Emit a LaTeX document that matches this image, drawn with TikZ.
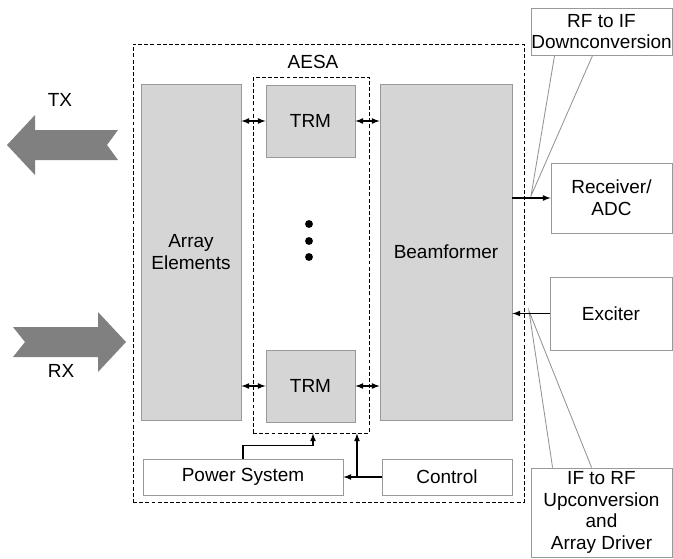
\documentclass[tikz,border=0pt]{standalone}
\usepackage{fontspec}
\setmainfont{Liberation Sans}
\usetikzlibrary{positioning}
\begin{document}
\begin{tikzpicture}[x = 0.025cm, y = -0.025cm,
    every node/.style = {font = \fontsize{13.5}{15.5}\selectfont, align = center, inner sep = 0pt},
    gbox/.style = {draw = gray!80, fill = gray!33, line width = 0.6pt},
    wbox/.style = {draw = gray!80, fill = white, line width = 0.6pt},
    dbox/.style = {draw, dash pattern = on 2.8pt off 1.6pt, line width = 0.6pt},
    link/.style = {-latex, line width = 0.9pt},
    both/.style = {latex-latex, line width = 0.9pt},
    lead/.style = {draw = gray!85, line width = 0.6pt},
    bigarrow/.style = {fill = black!50}]

    \useasboundingbox (0, 0) rectangle (673, 559);

    % dashed frames
    \node (sys) at (328.5, 273) [dbox, minimum width = 9.775cm, minimum height = 11.45cm] {};
    \node (aesa) at (311, 255) [dbox, minimum width = 2.9cm, minimum height = 8.9cm] {};
    \node (aesalbl) at (313, 62) {AESA};

    % blocks
    \node (arr) at (191, 252) [gbox, minimum width = 2.5cm, minimum height = 8.4cm] {Array\\Elements};
    \node (trm1) at (310.5, 121) [gbox, minimum width = 2.225cm, minimum height = 1.8cm] {TRM};
    \node (trm2) at (310.5, 386) [gbox, minimum width = 2.225cm, minimum height = 1.8cm] {TRM};
    \node (bf) at (446, 252) [gbox, minimum width = 3.3cm, minimum height = 8.4cm] {Beamformer};

    \node (d1) at (309, 224) [circle, fill, minimum size = 5.6pt] {};
    \node (d2) at (309, 241) [circle, fill, minimum size = 5.6pt] {};
    \node (d3) at (309, 257) [circle, fill, minimum size = 5.6pt] {};

    \node (pwr) at (243, 477) [wbox, minimum width = 5cm, minimum height = 0.9cm] {Power System};
    \node (ctl) at (447, 477) [wbox, minimum width = 3.25cm, minimum height = 0.9cm] {Control};

    \node (rcv) at (611.5, 198) [wbox, minimum width = 3.025cm, minimum height = 1.75cm] {Receiver/\\ADC};
    \node (exc) at (611, 313.5) [wbox, minimum width = 3.05cm, minimum height = 1.825cm] {Exciter};

    % callouts
    \coordinate (dtip) at (531, 196);
    \coordinate (utip) at (529, 311);
    \node (dcv) at (601.5, 31.5) [wbox, minimum width = 3.525cm, minimum height = 1.175cm] {RF to IF\\Downconversion};
    \node (ucv) at (601.5, 512.5) [wbox, minimum width = 3.525cm, minimum height = 2.225cm] {IF to RF\\Upconversion\\and\\Array Driver};
    \draw[lead] ([xshift = 0.6cm]dcv.south west) -- (dtip) -- ([xshift = 1.55cm]dcv.south west);
    \draw[lead] ([xshift = 0.55cm]ucv.north west) -- (utip) -- ([xshift = 1.525cm]ucv.north west);

    % connections
    \draw[both] (arr.east |- trm1) -- (trm1.west);
    \draw[both] (trm1.east) -- (bf.west |- trm1);
    \draw[both] (arr.east |- trm2) -- (trm2.west);
    \draw[both] (trm2.east) -- (bf.west |- trm2);

    \draw[link] (bf.east |- rcv) -- (rcv.west);
    \draw[link] (exc.west) -- (bf.east |- exc);

    \draw[link] (pwr.north) -- ++(0, -13) -| ([xshift = 0.05cm]aesa.south);
    \coordinate (cj) at (357, 477);
    \draw[link] (ctl.west) -- (pwr.east);
    \draw[link] (cj) -- (cj |- aesa.south);

    % TX and RX
    \fill[bigarrow] (7, 145) -- (35, 115) -- (35, 130) -- (118, 130) -- (107, 145)
        -- (118, 160) -- (35, 160) -- (35, 175) -- cycle;
    \fill[bigarrow] (13, 327) -- (98, 327) -- (98, 312) -- (126, 342) -- (98, 372)
        -- (98, 357) -- (13, 357) -- (25, 342) -- cycle;
    \node (tx) at (60, 100) {TX};
    \node (rx) at (61, 371) {RX};
\end{tikzpicture}
\end{document}
